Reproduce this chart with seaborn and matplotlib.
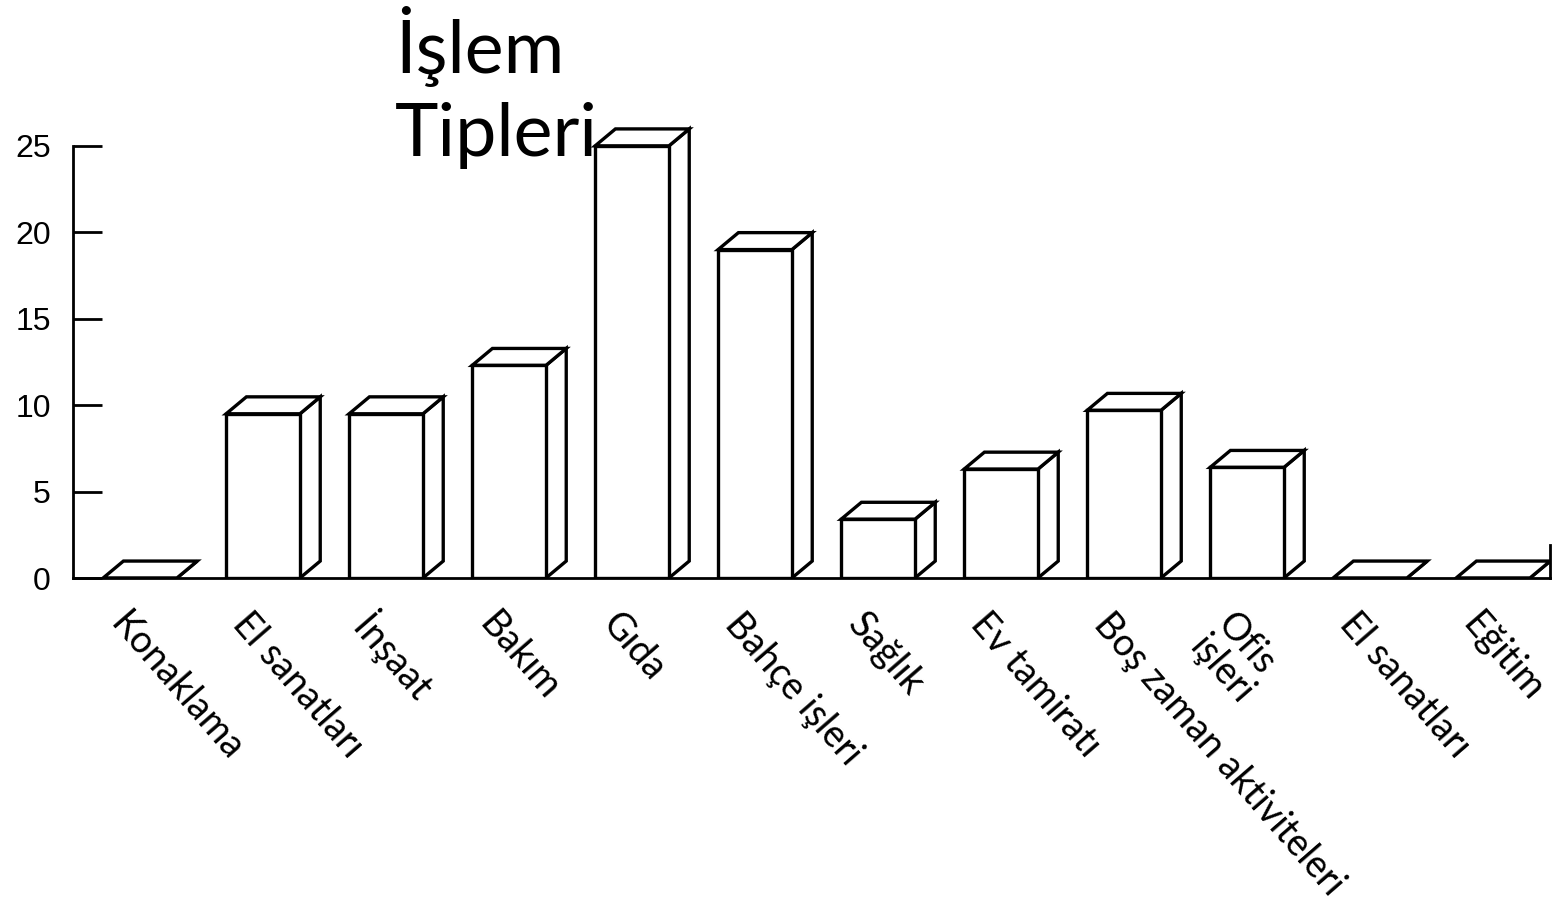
import matplotlib
matplotlib.use('Agg')
import matplotlib.pyplot as plt
import matplotlib.transforms as mtransforms
import seaborn as sns
import pandas as pd
import numpy as np

#=====DATA=====
categories = ["Konaklama", "El sanatları", "İnşaat", "Bakım", "Gıda", "Bahçe işleri",
              "Sağlık", "Ev tamiratı", "Boş zaman aktiviteleri", "Ofis\nişleri",
              "El sanatları", "Eğitim"]
values = [0, 9.5, 9.5, 12.3, 25, 19, 3.4, 6.3, 9.7, 6.4, 0, 0]
yticks = [0, 5, 10, 15, 20, 25]
title = "İşlem\nTipleri"

#=====STYLE=====
sns.set_style("white")
plt.rcParams['font.family'] = ['Lato', 'DejaVu Sans']

fig = plt.figure(figsize=(15.55, 9.19), dpi=100)
ax = fig.add_axes([73/1555, 1 - 578/919, (1550 - 73)/1555, 484/919])

df = pd.DataFrame({'idx': range(len(values)), 'val': values})
sns.barplot(data=df, x='idx', y='val', color='white', edgecolor='black',
            linewidth=2.4, width=0.6, saturation=1, ax=ax, zorder=3)

# 3d look: top face and right side for every bar
dx, dy = 0.165, 0.98
for p in ax.patches:
    x0, w, h = p.get_x(), p.get_width(), p.get_height()
    x1 = x0 + w
    top = [(x0, h), (x1, h), (x1 + dx, h + dy), (x0 + dx, h + dy)]
    side = [(x1, 0), (x1 + dx, dy), (x1 + dx, h + dy), (x1, h)]
    ax.add_patch(plt.Polygon(side, closed=True, facecolor='white', edgecolor='black',
                             lw=2.4, zorder=2, joinstyle='miter'))
    ax.add_patch(plt.Polygon(top, closed=True, facecolor='white', edgecolor='black',
                             lw=2.4, zorder=2, joinstyle='miter'))

ax.set_xlim(-0.545, 11.463)
ax.set_ylim(0, 28)
ax.set_xlabel("")
ax.set_ylabel("")
ax.set_xticks([])
ax.set_yticks(yticks)
ax.set_yticklabels([str(t) for t in yticks], fontsize=23, family='Liberation Sans')
ax.tick_params(axis='y', left=True, direction='in', length=21, width=2, pad=16,
               colors='black')

for s in ['left', 'bottom', 'right']:
    ax.spines[s].set_visible(True)
    ax.spines[s].set_color('black')
    ax.spines[s].set_linewidth(2)
ax.spines['top'].set_visible(False)
ax.spines['left'].set_bounds(0, 25)
ax.spines['right'].set_bounds(0, 1.9)

# rotated category labels
off = mtransforms.offset_copy(ax.transData, fig=fig, x=0, y=-28, units='dots')
for i, lab in enumerate(categories):
    ax.text(i - 0.08, 0, lab, transform=off, rotation=-49, rotation_mode='anchor',
            ha='left', va='top', fontsize=27, color='black', linespacing=1.0)

fig.text(395/1555, 1 - 6/919, title, ha='left', va='top', fontsize=53,
         color='black', linespacing=1.28)

fig.savefig("out.png", dpi=100, facecolor='white')
plt.close()
